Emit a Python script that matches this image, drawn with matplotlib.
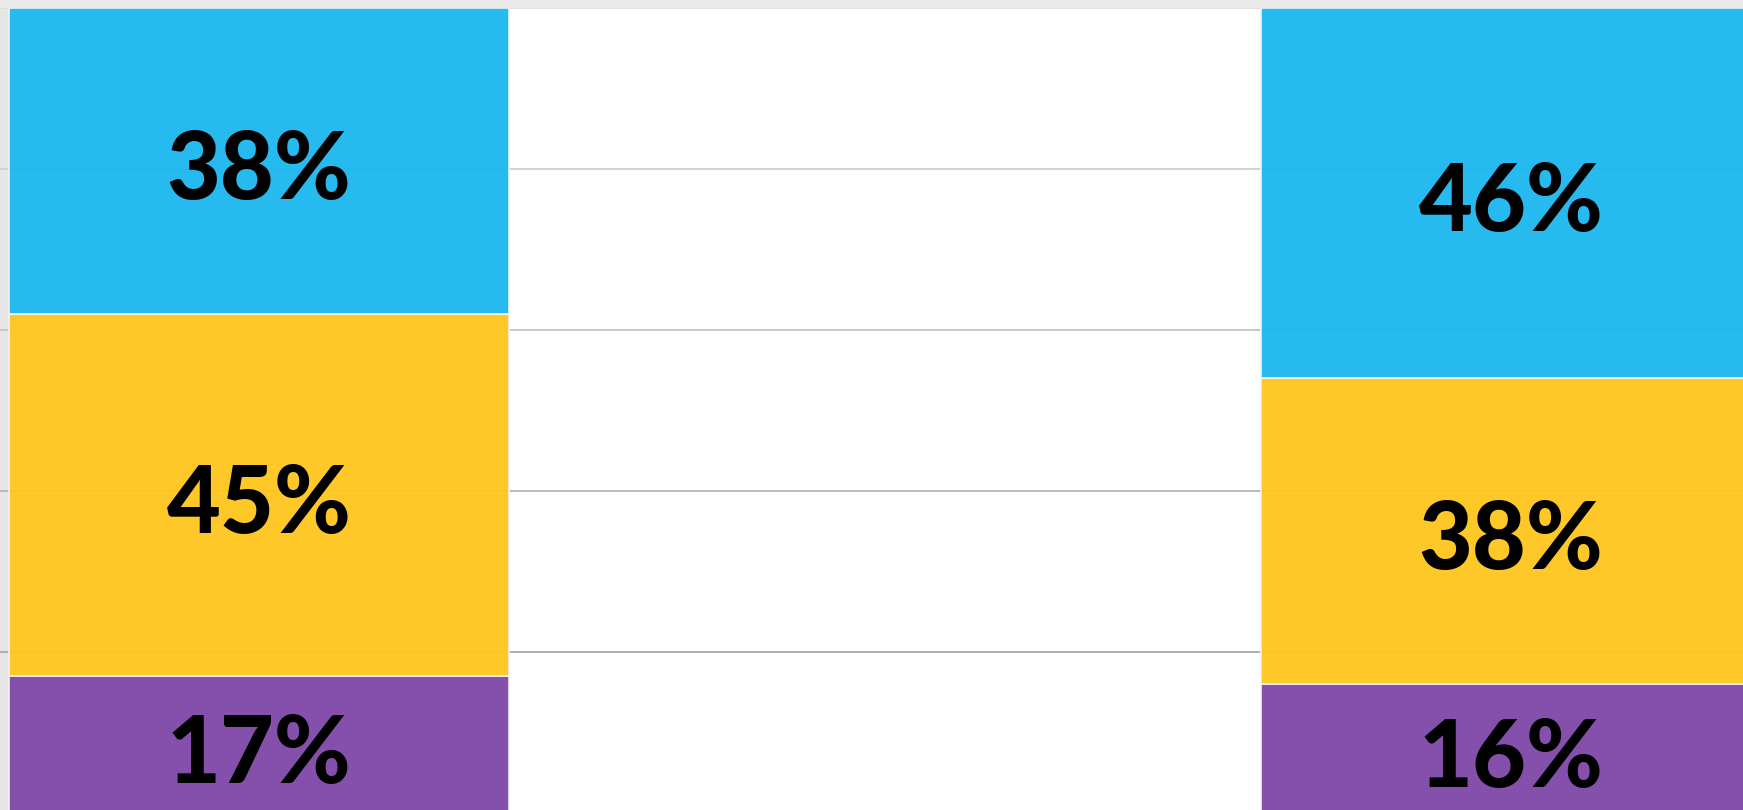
import matplotlib
matplotlib.use("Agg")
import matplotlib.pyplot as plt
import numpy as np

categories = ["A", "B"]
series_names = ["bottom", "middle", "top"]
purple_vals = [17, 16]
yellow_vals = [45, 38]
blue_vals = [38, 46]
colors = ["#7F49A8", "#FEC61F", "#1DB7EE"]
grid_vals = [20, 40, 60, 80, 100]
grid_colors = ["#a8a8a8", "#b4b4b4", "#c4c4c4", "#cfcfcf", "#dcdcdc"]

W, H = 1743, 810
fig = plt.figure(figsize=(W / 100, H / 100), dpi=100, facecolor="#e9e9e9")
top_px, zero_px = 8, 813
ax = fig.add_axes([0, (H - zero_px) / H, 1, (zero_px - top_px) / H])
ax.set_facecolor("white")

x = np.arange(len(categories))
width = 0.4
spacing_px = 1252
left_x = -259 / spacing_px
right_x = (W - 259) / spacing_px
ax.set_xlim(left_x, right_x)
ax.set_ylim(0, 100)

# grey left margin strip
ax.axvspan(left_x, -width / 2, color="#e6e6e6", zorder=0, lw=0)

for g, c in zip(grid_vals, grid_colors):
    ax.axhline(g, color=c, lw=1.3, zorder=1)

bottom = np.zeros(len(categories))
for vals, col in zip([purple_vals, yellow_vals, blue_vals], colors):
    vals = np.array(vals, dtype=float)
    ax.bar(x, vals, width, bottom=bottom, color=col, alpha=0.96,
           edgecolor="#f4f4f4", linewidth=1.2, zorder=2)
    for xi, b, v in zip(x, bottom, vals):
        ax.annotate(f"{int(v)}%", (xi, b + v / 2), xytext=(0, -8),
                    textcoords="offset points", ha="center", va="center",
                    fontsize=67, fontweight="black", family="Lato",
                    color="black", zorder=3)
    bottom += vals

for s in ax.spines.values():
    s.set_visible(False)
ax.set_xticks([])
ax.set_yticks([])

fig.savefig("out.png", dpi=100, facecolor=fig.get_facecolor())
